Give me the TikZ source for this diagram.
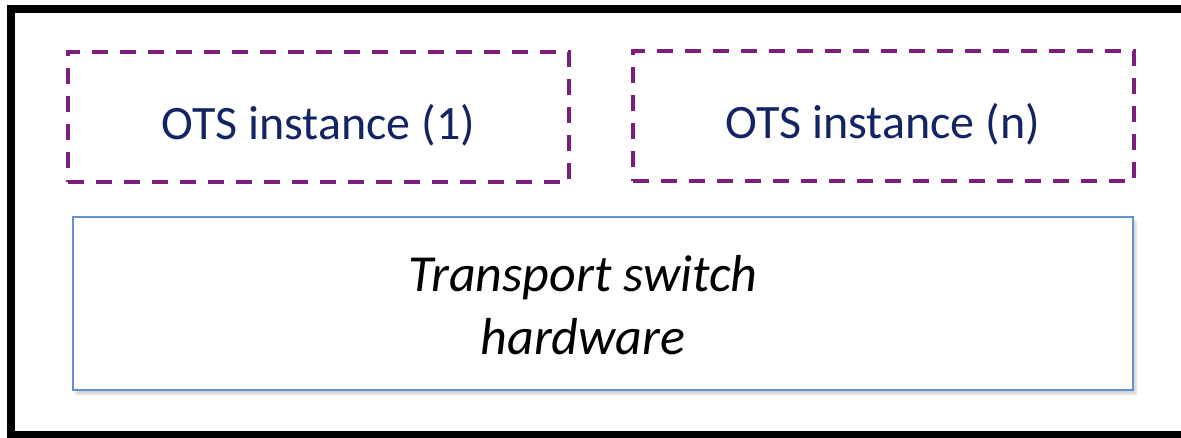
\documentclass[tikz,border=0pt]{standalone}
\usepackage{fontspec}
\setmainfont{Carlito}
\usetikzlibrary{shadows.blur}
\definecolor{otspurple}{RGB}{125,30,125}
\definecolor{otsnavy}{RGB}{18,36,100}
\definecolor{hwblue}{RGB}{100,145,210}
\tikzset{
  frame/.style={draw=black, line width=8pt},
  instbox/.style={draw=otspurple, line width=4pt, dash pattern=on 16pt off 12pt,
    minimum width=501pt, minimum height=130pt, inner sep=0pt},
  instlabel/.style={anchor=base, inner sep=0pt,
    font=\fontsize{48}{58}\selectfont, text=otsnavy},
  hwbox/.style={draw=hwblue, fill=white, line width=2pt,
    minimum width=1060pt, minimum height=173pt, inner sep=0pt,
    blur shadow={shadow xshift=3pt, shadow yshift=-4pt, shadow opacity=18, shadow blur steps=6}},
  hwlabel/.style={anchor=base, inner sep=0pt, align=center,
    font=\fontsize{52}{63}\selectfont\itshape, text=black}
}
\begin{document}
\begin{tikzpicture}[x=1pt, y=-1pt]
  \useasboundingbox (0,0) rectangle (1181,438);
  \begin{scope}
    \clip (0,0) rectangle (1181,438);
    % outer enclosure (its right side runs past the page edge)
    \draw[frame] (11,9) rectangle (1195,435);
  \end{scope}
  % virtualised instances
  \node[instbox] (ots1) at (318.5,117.5) {};
  \node[instlabel] (ots1txt) at (318.5,140) {OTS instance (1)};
  \node[instbox] (otsn) at (883,116) {};
  \node[instlabel] (otsntxt) at (883,139) {OTS instance (n)};
  % physical layer (the base anchor sits on the last line)
  \node[hwbox] (hw) at (603,303.5) {};
  \node[hwlabel] (hwtxt) at (583,355) {Transport switch\\hardware};
\end{tikzpicture}
\end{document}
